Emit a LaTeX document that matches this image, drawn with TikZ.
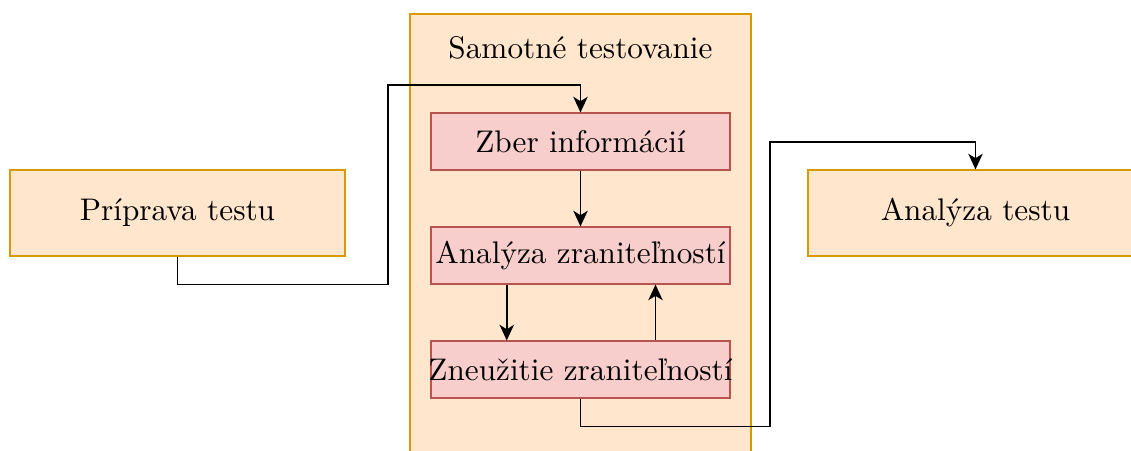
\documentclass[tikz,border=0pt]{standalone}
\usepackage{tikz}
\usetikzlibrary{arrows.meta}

\definecolor{orangefill}{HTML}{FFE6CC}
\definecolor{orangeline}{HTML}{D79B00}
\definecolor{redfill}{HTML}{F8CECC}
\definecolor{redline}{HTML}{B85450}

\tikzset{
  phase/.style={draw=orangeline, fill=orangefill, line width=0.4pt,
    minimum width=107.2pt, minimum height=27.5pt, inner sep=0pt},
  task/.style={draw=redline, fill=redfill, line width=0.4pt,
    minimum width=95.7pt, minimum height=18.2pt, inner sep=0pt},
  flow/.style={line width=0.55pt, -{Stealth[length=5pt,width=4.6pt,inset=1.4pt]}}
}

\begin{document}
\begin{tikzpicture}[x=0.32pt, y=-0.32pt]
    \useasboundingbox (0,0) rectangle (1131,450);
    \clip (0,0) rectangle (1131,450);

    % Container for the testing itself
    \node[draw=orangeline, fill=orangefill, minimum width=109.1pt,
          minimum height=145.9pt, inner sep=0pt] (samotne) at (580.5,242) {};
    \node (nadpis) at (580.5,48) {Samotné testovanie};

    % Phases
    \node[phase] (priprava) at (177.5,213) {Príprava testu};
    \node[phase] (atestu) at (975.5,213) {Analýza testu};

    % Steps inside the container
    \node[task] (zber) at (580.5,141.5) {Zber informácií};
    \node[task] (analyza) at (580.5,255.5) {Analýza zraniteľností};
    \node[task] (zneuzitie) at (580.5,369.5) {\makebox[0pt]{Zneužitie zraniteľností}};

    % Connectors
    \draw[flow] (priprava.south) -- ++(0,28) -| (388,85) -| (zber.north);
    \draw[flow] (zber) -- (analyza);
    \draw[flow] ([xshift=-23.6pt]analyza.south) -- ([xshift=-23.6pt]zneuzitie.north);
    \draw[flow] ([xshift=24pt]zneuzitie.north) -- ([xshift=24pt]analyza.south);
    \draw[flow] (zneuzitie.south) -- ++(0,28) -| (770,142) -| (atestu.north);
\end{tikzpicture}
\end{document}
